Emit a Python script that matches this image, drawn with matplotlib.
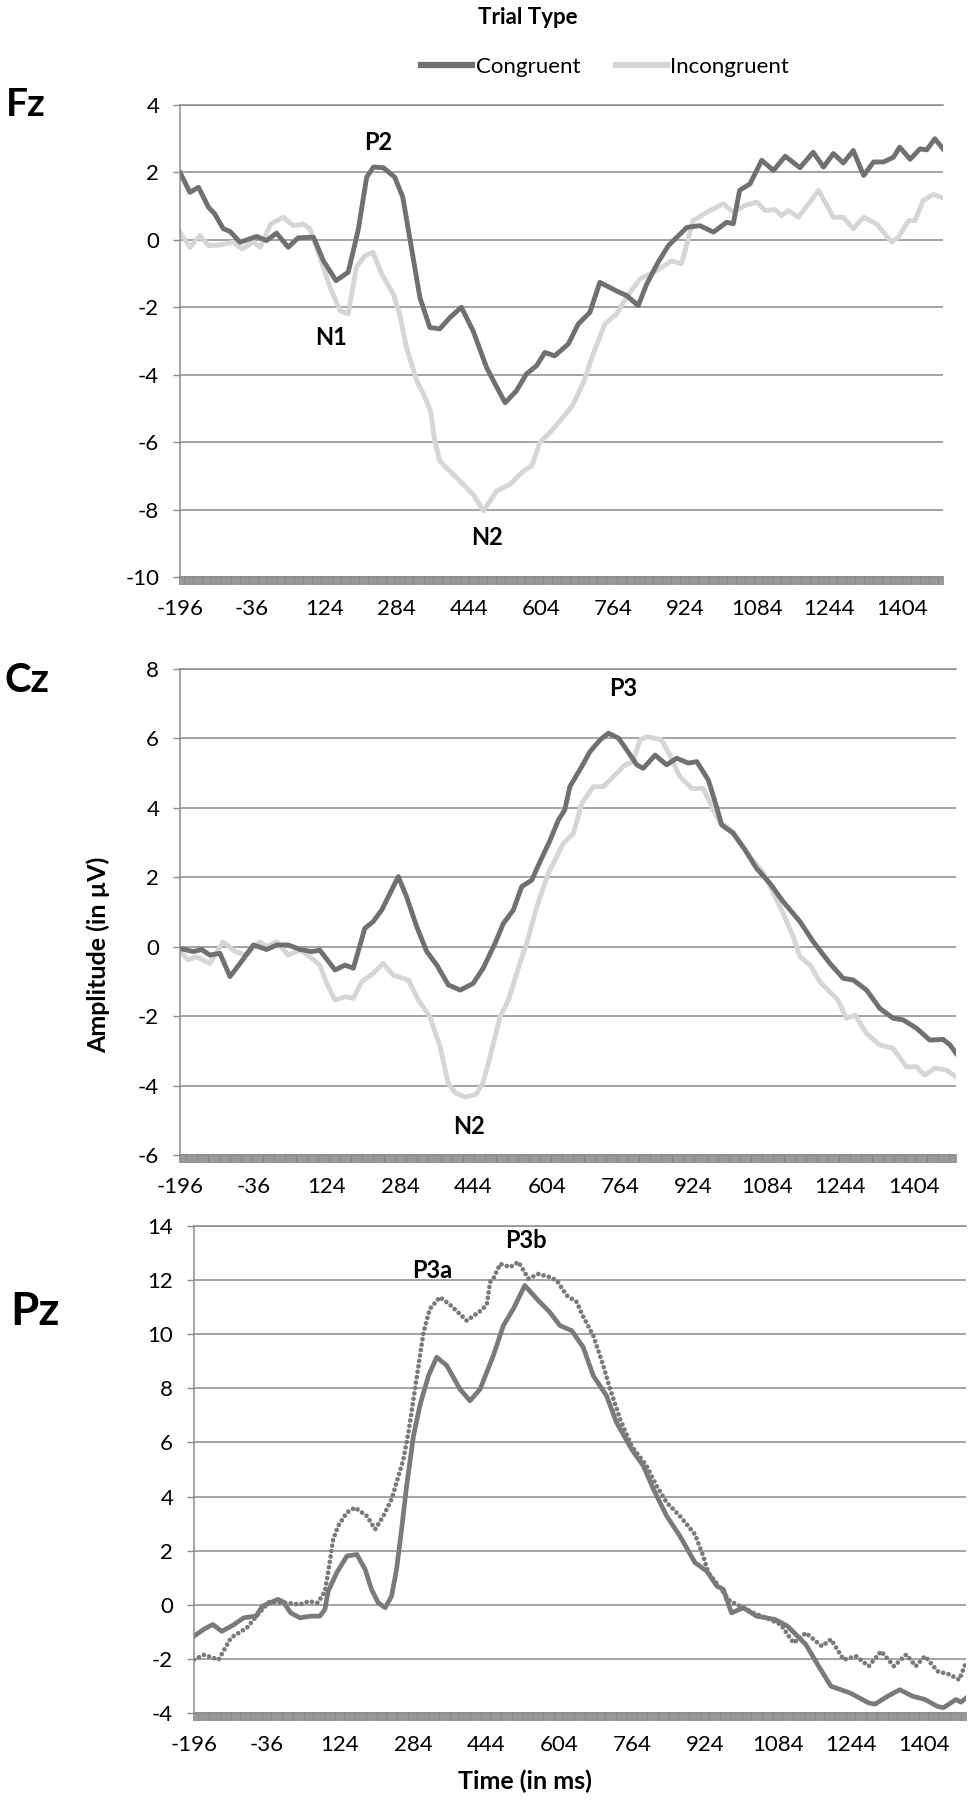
import numpy as np
import matplotlib
matplotlib.use('Agg')
import matplotlib.pyplot as plt
from matplotlib.lines import Line2D

plt.rcParams['font.family'] = ['Lato', 'DejaVu Sans']
plt.rcParams['axes.unicode_minus'] = False

# ---- data (time in ms, amplitude in microvolts) ----
fz_con_t = [-196, -174, -155, -133, -119, -100, -85, -63, -26, -4, 18, 44, 66, 100, 122, 150, 177, 199, 218, 233,
            255, 280, 298, 317, 336, 358, 380, 403, 428, 454, 484, 499, 525, 550, 572, 595, 613, 635, 665, 687,
            713, 735, 771, 794, 820, 839, 864, 887, 928, 957, 987, 1016, 1031, 1045, 1068, 1094, 1120, 1146, 1179,
            1208, 1231, 1253, 1275, 1297, 1320, 1342, 1364, 1386, 1400, 1423, 1445, 1460, 1478, 1496]
fz_con_v = [2.0, 1.41, 1.56, 0.97, 0.77, 0.33, 0.25, -0.07, 0.1, -0.02, 0.2, -0.22, 0.06, 0.08, -0.62, -1.21, -0.96,
            0.28, 1.86, 2.16, 2.14, 1.86, 1.27, -0.22, -1.71, -2.6, -2.64, -2.3, -2.0, -2.7, -3.79, -4.18, -4.83,
            -4.48, -3.98, -3.73, -3.34, -3.44, -3.09, -2.5, -2.15, -1.26, -1.51, -1.65, -1.95, -1.31, -0.67, -0.17,
            0.37, 0.42, 0.23, 0.52, 0.48, 1.47, 1.66, 2.36, 2.06, 2.48, 2.14, 2.6, 2.16, 2.56, 2.28, 2.65, 1.91,
            2.31, 2.31, 2.45, 2.75, 2.39, 2.7, 2.67, 3.0, 2.7]

fz_inc_t = [-196, -174, -152, -133, -107, -78, -59, -33, -18, 5, 33, 55, 77, 92, 114, 137, 159, 177, 195, 214,
            232, 251, 277, 291, 306, 329, 345, 360, 369, 380, 417, 454, 477, 506, 536, 565, 584, 602, 624, 647,
            675, 700, 720, 746, 772, 794, 824, 861, 894, 916, 942, 972, 1009, 1031, 1057, 1083, 1101, 1123, 1138,
            1153, 1175, 1201, 1220, 1253, 1275, 1297, 1320, 1349, 1382, 1397, 1420, 1434, 1452, 1475, 1496]
fz_inc_v = [0.23, -0.22, 0.13, -0.17, -0.15, -0.07, -0.27, -0.07, -0.22, 0.47, 0.67, 0.42, 0.47, 0.33, -0.52,
            -1.41, -2.1, -2.2, -0.81, -0.47, -0.37, -1.01, -1.6, -2.2, -3.19, -4.18, -4.6, -5.1, -5.96, -6.56,
            -7.05, -7.55, -8.04, -7.45, -7.25, -6.86, -6.71, -6.01, -5.72, -5.37, -4.9, -4.18, -3.39, -2.5, -2.2,
            -1.71, -1.16, -0.91, -0.62, -0.71, 0.57, 0.82, 1.07, 0.82, 1.02, 1.12, 0.87, 0.9, 0.72, 0.87, 0.67,
            1.12, 1.47, 0.67, 0.67, 0.33, 0.67, 0.47, -0.07, 0.08, 0.57, 0.57, 1.17, 1.35, 1.25]

cz_con_t = [-196, -167, -149, -131, -109, -87, -65, -36, -7, 15, 40, 66, 91, 109, 142, 164, 182, 207, 225, 244,
            262, 280, 298, 320, 342, 364, 389, 415, 443, 465, 491, 509, 531, 549, 571, 589, 611, 629, 643, 654,
            680, 698, 720, 738, 760, 778, 800, 814, 840, 865, 887, 912, 931, 956, 974, 985, 1010, 1036, 1061, 1090,
            1119, 1156, 1185, 1221, 1250, 1272, 1301, 1330, 1359, 1381, 1410, 1439, 1468, 1483, 1496]
cz_con_v = [-0.05, -0.14, -0.08, -0.24, -0.19, -0.86, -0.48, 0.05, -0.08, 0.05, 0.05, -0.08, -0.14, -0.1, -0.67,
            -0.53, -0.62, 0.53, 0.72, 1.06, 1.54, 2.02, 1.44, 0.58, -0.14, -0.53, -1.1, -1.25, -1.06, -0.62, 0.1,
            0.67, 1.06, 1.73, 1.92, 2.45, 3.07, 3.65, 3.94, 4.61, 5.19, 5.62, 5.96, 6.15, 6.01, 5.67, 5.24, 5.14,
            5.52, 5.24, 5.43, 5.29, 5.33, 4.8, 4.03, 3.51, 3.27, 2.79, 2.26, 1.83, 1.3, 0.72, 0.14, -0.48, -0.91,
            -0.96, -1.25, -1.78, -2.06, -2.11, -2.35, -2.69, -2.67, -2.83, -3.07]

cz_inc_t = [-196, -178, -160, -131, -102, -76, -51, -22, -7, 15, 40, 66, 87, 109, 124, 142, 164, 182, 200, 225,
            247, 269, 302, 324, 349, 371, 389, 405, 426, 450, 465, 480, 502, 520, 538, 560, 582, 607, 640, 662,
            680, 705, 727, 749, 774, 792, 807, 822, 854, 872, 894, 920, 945, 967, 981, 1010, 1047, 1076, 1098,
            1119, 1141, 1156, 1178, 1199, 1217, 1239, 1257, 1276, 1301, 1330, 1359, 1388, 1410, 1428, 1450, 1475,
            1496]
cz_inc_v = [-0.14, -0.38, -0.29, -0.48, 0.14, -0.14, -0.24, 0.14, 0.0, 0.14, -0.24, -0.1, -0.29, -0.53, -1.06,
            -1.54, -1.44, -1.49, -1.01, -0.77, -0.48, -0.82, -0.96, -1.54, -2.02, -2.88, -3.94, -4.22, -4.33,
            -4.25, -3.9, -3.17, -2.02, -1.54, -0.77, 0.1, 1.15, 2.12, 2.98, 3.27, 4.13, 4.61, 4.61, 4.9, 5.24,
            5.33, 5.96, 6.05, 5.96, 5.52, 4.9, 4.56, 4.56, 3.94, 3.6, 3.31, 2.59, 2.12, 1.54, 0.96, 0.29, -0.29,
            -0.53, -1.01, -1.25, -1.54, -2.06, -1.97, -2.5, -2.83, -2.93, -3.46, -3.46, -3.7, -3.5, -3.55, -3.75]

pz_con_t = [-196, -174, -155, -135, -110, -87, -60, -46, -12, 0, 16, 36, 60, 80, 91, 98, 117, 139, 161, 179, 193,
            208, 223, 237, 248, 259, 270, 285, 299, 318, 336, 358, 387, 409, 431, 460, 482, 504, 529, 555, 584,
            606, 632, 657, 679, 708, 730, 763, 789, 811, 840, 869, 902, 928, 950, 964, 982, 1008, 1037, 1077,
            1105, 1145, 1173, 1200, 1242, 1283, 1297, 1324, 1351, 1379, 1406, 1434, 1447, 1474, 1485, 1496]
pz_con_v = [-1.16, -0.9, -0.73, -0.98, -0.75, -0.48, -0.42, -0.05, 0.2, 0.1, -0.3, -0.48, -0.42, -0.42, -0.17, 0.5,
            1.19, 1.8, 1.86, 1.31, 0.57, 0.07, -0.11, 0.32, 1.31, 2.79, 4.39, 6.24, 7.36, 8.47, 9.15, 8.84, 7.97,
            7.54, 7.97, 9.21, 10.32, 10.94, 11.8, 11.31, 10.81, 10.32, 10.13, 9.52, 8.47, 7.73, 6.74, 5.75, 5.13,
            4.27, 3.28, 2.54, 1.56, 1.24, 0.69, 0.57, -0.3, -0.11, -0.42, -0.54, -0.79, -1.47, -2.27, -3.01,
            -3.26, -3.63, -3.67, -3.38, -3.14, -3.38, -3.5, -3.76, -3.8, -3.5, -3.6, -3.45]

pz_inc_t = [-196, -174, -142, -115, -80, -53, -32, 9, 36, 56, 75, 91, 98, 109, 120, 139, 157, 183, 201, 219, 237,
            248, 263, 274, 285, 296, 307, 321, 343, 365, 402, 435, 446, 453, 460, 475, 497, 515, 537, 559, 584,
            599, 621, 643, 654, 679, 701, 716, 738, 763, 796, 818, 840, 869, 902, 920, 931, 957, 979, 1008, 1030,
            1060, 1090, 1118, 1145, 1180, 1200, 1228, 1255, 1283, 1310, 1338, 1365, 1386, 1406, 1434, 1461, 1481,
            1496]
pz_inc_v = [-2.03, -1.85, -2.03, -1.22, -0.85, -0.3, 0.09, 0.07, 0.01, 0.13, 0.07, 0.5, 1.19, 2.42, 2.91, 3.41,
            3.59, 3.28, 2.79, 3.28, 3.9, 4.52, 5.38, 6.37, 7.6, 8.84, 10.07, 10.94, 11.37, 11.09, 10.5, 10.9,
            11.12, 11.93, 12.05, 12.6, 12.48, 12.67, 12.05, 12.23, 12.11, 11.99, 11.43, 11.19, 10.75, 9.95, 8.84,
            7.97, 6.86, 5.87, 5.13, 4.39, 3.78, 3.28, 2.6, 1.8, 1.19, 0.63, 0.13, -0.11, -0.3, -0.5, -0.73,
            -1.41, -1.04, -1.53, -1.28, -2.03, -1.9, -2.27, -1.72, -2.27, -1.84, -2.27, -1.9, -2.46, -2.58,
            -2.77, -2.14]

tick_times = [-196, -36, 124, 284, 444, 604, 764, 924, 1084, 1244, 1404]
series_names = ['Congruent', 'Incongruent']

DARK = '#707070'
LIGHT = '#d6d6d6'
PZ = '#7a7a7a'
GRID = '#8c8c8c'

W, H = 974, 1800
fig = plt.figure(figsize=(W / 100, H / 100), dpi=100)


def add_panel(left, right, top, bottom, ylim):
    ax = fig.add_axes([left / W, 1 - bottom / H, (right - left) / W, (bottom - top) / H])
    ax.set_xlim(-196, 1496)
    ax.set_ylim(*ylim)
    ax.set_yticks(np.arange(ylim[0], ylim[1] + 1, 2))
    ax.yaxis.grid(True, color=GRID, lw=1.1)
    ax.set_axisbelow(True)
    ax.set_xticks(tick_times)
    ax.set_xticks(np.arange(-196, 1497, 4), minor=True)
    for s in ['top', 'left', 'bottom']:
        ax.spines[s].set_color(GRID)
        ax.spines[s].set_linewidth(1.1)
    ax.spines['right'].set_visible(False)
    ax.tick_params(axis='y', length=5, width=1, color=GRID, labelsize=16, pad=10)
    ax.tick_params(axis='x', which='both', length=5.5, width=1.2, color='#858585', labelsize=16, pad=10)
    return ax


bold = dict(fontsize=17, fontweight='bold', ha='center', va='center')

# Fz
ax1 = add_panel(180, 943, 105, 577, (-10, 4))
ax1.plot(fz_inc_t, fz_inc_v, color=LIGHT, lw=3.5, solid_joinstyle='round')
ax1.plot(fz_con_t, fz_con_v, color=DARK, lw=3.5, solid_joinstyle='round')
ax1.text(243, 2.9, 'P2', **bold)
ax1.text(140, -2.9, 'N1', **bold)
ax1.text(484, -8.84, 'N2', **bold)

# Cz
ax2 = add_panel(180, 956, 669, 1155, (-6, 8))
ax2.plot(cz_inc_t, cz_inc_v, color=LIGHT, lw=3.5, solid_joinstyle='round')
ax2.plot(cz_con_t, cz_con_v, color=DARK, lw=3.5, solid_joinstyle='round')
ax2.text(771, 7.45, 'P3', **bold)
ax2.text(434, -5.19, 'N2', **bold)

# Pz
ax3 = add_panel(194, 966, 1226, 1713, (-4, 14))
ax3.plot(pz_con_t, pz_con_v, color=PZ, lw=3.4, solid_joinstyle='round')
ax3.plot(pz_inc_t, pz_inc_v, color=PZ, lw=3.4, linestyle=(0, (0.01, 1.15)), dash_capstyle='round')
ax3.text(325, 12.36, 'P3a', **bold)
ax3.text(532, 13.47, 'P3b', **bold)

# electrode labels
fig.text(26 / W, 1 - 104 / H, 'Fz', fontsize=28, fontweight='bold', ha='center', va='center')
fig.text(27 / W, 1 - 680 / H, 'Cz', fontsize=29, fontweight='bold', ha='center', va='center')
fig.text(35 / W, 1 - 1312 / H, 'Pz', fontsize=33, fontweight='bold', ha='center', va='center')

fig.text(98 / W, 1 - 955 / H, 'Amplitude (in µV)', fontsize=18, fontweight='bold',
         rotation=90, ha='center', va='center')
fig.text(525 / W, 1 - 1781 / H, 'Time (in ms)', fontsize=18, fontweight='bold', ha='center', va='center')

# legend
fig.text(528 / W, 1 - 18 / H, 'Trial Type', fontsize=16, fontweight='bold', ha='center', va='center')
handles = [Line2D([], [], color=DARK, lw=4.5), Line2D([], [], color=LIGHT, lw=4.5)]
fig.legend(handles, series_names, loc='center', bbox_to_anchor=(605 / W, 1 - 67 / H), ncol=2,
           frameon=False, fontsize=16, handlelength=2.3, handletextpad=0.15, columnspacing=1.6)

fig.savefig('out.png', dpi=100)
